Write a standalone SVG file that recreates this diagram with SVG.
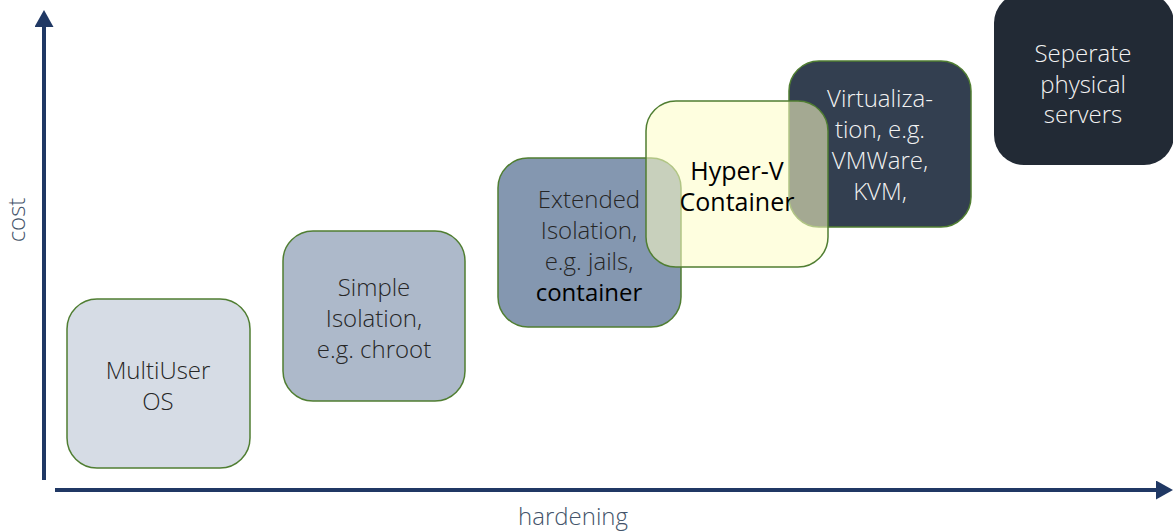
<svg xmlns="http://www.w3.org/2000/svg" width="1173" height="532" viewBox="0 0 1173 532">
<style>
.box{stroke:#507e32;stroke-width:1.5}
.t{font-family:"Open Sans","Liberation Sans",sans-serif;font-size:24px;font-weight:300;text-anchor:middle}
.dk{fill:#262626}
.lt{fill:#f2f2f2}
.bk{fill:#000;font-weight:400}
.ax{stroke:#203864;stroke-width:4;fill:none}
.lbl{font-family:"Open Sans","Liberation Sans",sans-serif;font-size:24px;font-weight:300;fill:#44546a;text-anchor:middle}
</style>
<defs>
<marker id="ah" viewBox="0 0 17 19" refX="0" refY="9.5" markerWidth="17" markerHeight="19" markerUnits="userSpaceOnUse" orient="auto">
<path d="M0,0 L17,9.5 L0,19 Z" fill="#203864"/>
</marker>
</defs>
<g id="connectors">
<line class="ax" x1="44" y1="480" x2="44" y2="27" marker-end="url(#ah)"/>
<line class="ax" x1="55" y1="490" x2="1156" y2="490" marker-end="url(#ah)"/>
</g>
<g id="node-multiuser">
<rect class="box" x="67" y="299" width="183" height="169" rx="30" fill="#d6dce5"/>
<text class="t dk" x="158" y="379">MultiUser</text>
<text class="t dk" x="158" y="410">OS</text>
</g>
<g id="node-simple">
<rect class="box" x="283" y="231" width="182" height="170" rx="30" fill="#adb9ca"/>
<text class="t dk" x="374" y="296">Simple</text>
<text class="t dk" x="374" y="327">Isolation,</text>
<text class="t dk" x="374" y="358">e.g. chroot</text>
</g>
<g id="node-extended">
<rect class="box" x="498" y="158" width="183" height="169" rx="30" fill="#8497b0"/>
<text class="t dk" x="589" y="208">Extended</text>
<text class="t dk" x="589" y="239">Isolation,</text>
<text class="t dk" x="589" y="270">e.g. jails,</text>
<text class="t bk" x="589" y="301">container</text>
</g>
<g id="node-virtualization">
<rect class="box" x="789" y="61" width="182" height="166" rx="30" fill="#333f50"/>
<text class="t lt" x="880" y="107">Virtualiza-</text>
<text class="t lt" x="880" y="138">tion, e.g.</text>
<text class="t lt" x="880" y="169">VMWare,</text>
<text class="t lt" x="880" y="200">KVM,</text>
</g>
<g id="node-hyperv">
<rect class="box" x="646" y="101" width="182" height="166" rx="30" fill="#fdfdc6" fill-opacity="0.56"/>
<text class="t bk" x="737" y="180" style="font-size:25px">Hyper-V</text>
<text class="t bk" x="737" y="211" style="font-size:25px">Container</text>
</g>
<g id="node-physical">
<rect x="994" y="-7" width="180" height="172" rx="30" fill="#222a35"/>
<text class="t lt" x="1083" y="62">Seperate</text>
<text class="t lt" x="1083" y="93">physical</text>
<text class="t lt" x="1083" y="123">servers</text>
</g>
<text class="lbl" x="0" y="0" transform="translate(25,220) rotate(-90)">cost</text>
<text class="lbl" x="573" y="525">hardening</text>
</svg>
